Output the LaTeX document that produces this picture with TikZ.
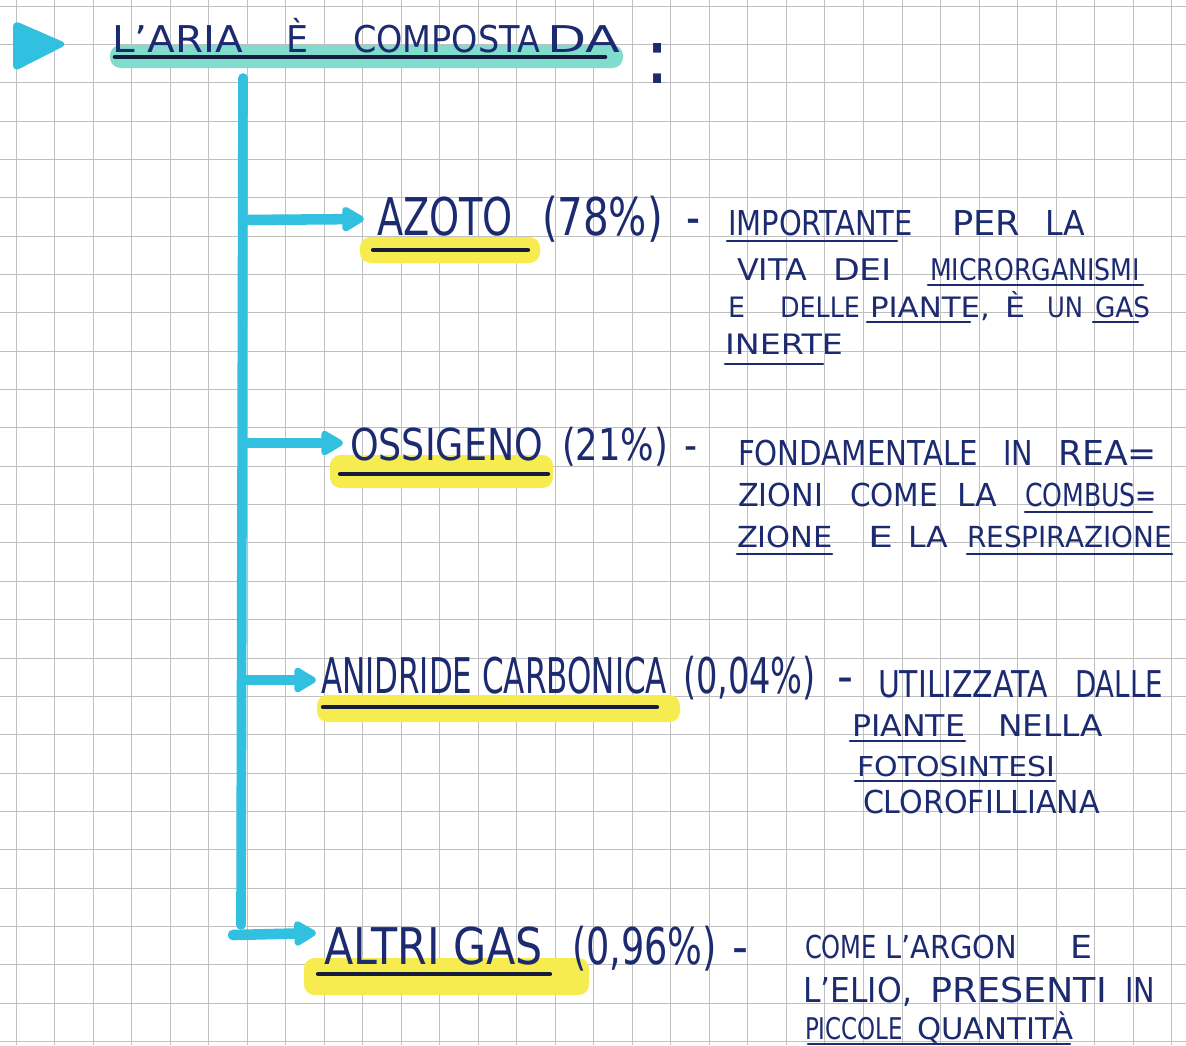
\documentclass[tikz,border=0pt]{standalone}
\usepackage{fontspec}
\setmainfont{DejaVu Sans}
\usepackage{graphicx}
\usetikzlibrary{arrows.meta}
\definecolor{ink}{RGB}{28,42,112}
\definecolor{ulink}{RGB}{22,28,60}
\definecolor{marker}{RGB}{50,192,224}
\definecolor{hlyellow}{RGB}{246,236,80}
\definecolor{hlteal}{RGB}{128,220,205}
\definecolor{gridc}{RGB}{192,192,192}
\newlength\pxu \setlength\pxu{0.02cm}
\newcommand\hw[3]{\resizebox{#2\pxu}{\height}{\fontsize{#1pt}{#1pt}\selectfont #3}}
\begin{document}
\begin{tikzpicture}[x=0.02cm,y=-0.02cm,
  txt/.style={anchor=base west,inner sep=0pt,outer sep=0pt,text=ink},
  ul/.style={draw=ink,line width=1.5pt,line cap=round},
  lul/.style={draw=ulink,line width=2.4pt,line cap=round},
  hly/.style={fill=hlyellow,rounded corners=6pt},
  flow/.style={draw=marker,line width=6pt,line cap=round,-{Triangle[length=0.5cm,width=0.55cm,round]}},
  spine/.style={draw=marker,line width=5.5pt,line cap=round}]
\fill[white] (0,0) rectangle (1186,1045);
\useasboundingbox (0,0) rectangle (1186,1045);
% grid paper
\foreach \i in {0,...,30} \draw[gridc,line width=0.5pt] ({16+38.52*\i},0) -- ({16+38.52*\i},1045);
\foreach \j in {0,...,27} \draw[gridc,line width=0.5pt] (0,{6+38.35*\j}) -- (1186,{6+38.35*\j});
% title
\fill[marker,rounded corners=4pt] (13,20) -- (68,44) -- (13,72) -- cycle;
\fill[hlteal,rounded corners=6pt] (110,45) rectangle (623,68);
\draw[draw=ulink,line width=2.6pt,line cap=round] (115,57) -- (605,57);
\node[txt] (tw1) at (112,52) {\hw{21}{131}{L'ARIA}};
\node[txt] (tw2) at (286,52) {\hw{21}{22}{È}};
\node[txt] (tw3) at (353,52) {\hw{21}{187}{COMPOSTA}};
\node[txt] (tw4) at (547,52) {\hw{21}{73}{DA}};
\node[txt] (colon) at (644,83) {\fontsize{44pt}{44pt}\selectfont :};
% highlighters
\fill[hly] (360,237) rectangle (540,263);
\fill[hly] (330,455) rectangle (553,488);
\fill[hly] (317,695) rectangle (680,722);
\fill[hly] (304,958) rectangle (589,995);
% label underlines
\draw[lul] (373,250) -- (528,250);
\draw[lul] (340,474) -- (548,474);
\draw[lul] (323,707) -- (657,707);
\draw[lul] (318,974) -- (550,974);
% spine and arrows
\coordinate (spTop) at (243,78);
\coordinate (spBot) at (241,925);
\draw[spine] (spTop) -- (spBot);
\coordinate (s1) at (243,220); \coordinate (e1) at (364,219);
\coordinate (s2) at (243,443); \coordinate (e2) at (343,443);
\coordinate (s3) at (243,680); \coordinate (e3) at (316,680);
\coordinate (s4) at (233,935); \coordinate (e4) at (316,933);
\draw[flow] (s1) -- (e1);
\draw[flow] (s2) -- (e2);
\draw[flow] (s3) -- (e3);
\draw[flow] (s4) -- (e4);
% AZOTO
\node[txt] (azoto) at (377,235) {\hw{29.6}{136}{AZOTO}};
\node[txt] (azotoPct) at (542,235) {\hw{29.6}{121}{(78\%)}};
\node[txt] (azotoDash) at (686,235) {\hw{29.6}{14}{-}};
\node[txt] (a1a) at (728,235) {\hw{19.5}{185}{IMPORTANTE}};
\node[txt] (a1b) at (952,235) {\hw{19.5}{68}{PER}};
\node[txt] (a1c) at (1045,235) {\hw{19.5}{40}{LA}};
\node[txt] (a2a) at (737,280) {\hw{17}{70}{VITA}};
\node[txt] (a2b) at (833,280) {\hw{17}{59}{DEI}};
\node[txt] (a2c) at (930,280) {\hw{17}{210}{MICRORGANISMI}};
\node[txt] (a3a) at (728,317) {\hw{16}{17}{E}};
\node[txt] (a3b) at (780,317) {\hw{16}{80}{DELLE}};
\node[txt] (a3c) at (870,317) {\hw{16}{120}{PIANTE,}};
\node[txt] (a3d) at (1005,317) {\hw{16}{20}{È}};
\node[txt] (a3e) at (1047,317) {\hw{16}{36}{UN}};
\node[txt] (a3f) at (1095,317) {\hw{16}{55}{GAS}};
\node[txt] (a4a) at (725,354) {\hw{16}{118}{INERTE}};
\draw[ul] (727,241) -- (897,241);
\draw[ul] (928,285) -- (1143,285);
\draw[ul] (867,322) -- (970,322);
\draw[ul] (1093,322) -- (1138,322);
\draw[ul] (725,364) -- (823,364);
% OSSIGENO
\node[txt] (ossigeno) at (350,460) {\hw{25}{193}{OSSIGENO}};
\node[txt] (ossigenoPct) at (562,460) {\hw{25}{106}{(21\%)}};
\node[txt] (ossigenoDash) at (684,460) {\hw{25}{13}{-}};
\node[txt] (o1a) at (738,465) {\hw{19.5}{240}{FONDAMENTALE}};
\node[txt] (o1b) at (1003,465) {\hw{19.5}{30}{IN}};
\node[txt] (o1c) at (1058,465) {\hw{19.5}{99}{REA=}};
\node[txt] (o2a) at (738,506) {\hw{18}{85}{ZIONI}};
\node[txt] (o2b) at (850,506) {\hw{18}{88}{COME}};
\node[txt] (o2c) at (957,506) {\hw{18}{40}{LA}};
\node[txt] (o2d) at (1025,506) {\hw{18}{132}{COMBUS=}};
\node[txt] (o3a) at (737,547) {\hw{16.5}{96}{ZIONE}};
\node[txt] (o3b) at (868,547) {\hw{16.5}{25}{E}};
\node[txt] (o3c) at (908,547) {\hw{16.5}{40}{LA}};
\node[txt] (o3d) at (967,547) {\hw{16.5}{205}{RESPIRAZIONE}};
\draw[ul] (1025,512) -- (1152,512);
\draw[ul] (737,554) -- (832,554);
\draw[ul] (967,554) -- (1172,554);
% ANIDRIDE CARBONICA
\node[txt] (anidride) at (321,693) {\hw{28}{346}{ANIDRIDE CARBONICA}};
\node[txt] (anidridePct) at (683,693) {\hw{28}{133}{(0,04\%)}};
\node[txt] (anidrideDash) at (837,693) {\hw{28}{16}{-}};
\node[txt] (c1a) at (878,697) {\hw{21}{170}{UTILIZZATA}};
\node[txt] (c1b) at (1075,697) {\hw{21}{88}{DALLE}};
\node[txt] (c2a) at (852,736) {\hw{17}{113}{PIANTE}};
\node[txt] (c2b) at (998,736) {\hw{17}{105}{NELLA}};
\node[txt] (c3a) at (857,776) {\hw{15.6}{198}{FOTOSINTESI}};
\node[txt] (c4a) at (863,813) {\hw{18}{237}{CLOROFILLIANA}};
\draw[ul] (850,741) -- (965,741);
\draw[ul] (855,781) -- (1055,781);
% ALTRI GAS
\node[txt] (altri) at (324,964) {\hw{28.8}{219}{ALTRI GAS}};
\node[txt] (altriPct) at (572,964) {\hw{28.8}{145}{(0,96\%)}};
\node[txt] (altriDash) at (732,964) {\hw{28.8}{16}{-}};
\node[txt] (g1a) at (805,958) {\hw{18}{72}{COME}};
\node[txt] (g1b) at (885,958) {\hw{18}{132}{L'ARGON}};
\node[txt] (g1c) at (1070,958) {\hw{18}{22}{E}};
\node[txt] (g2a) at (803,1002) {\hw{19.5}{109}{L'ELIO,}};
\node[txt] (g2b) at (930,1002) {\hw{19.5}{177}{PRESENTI}};
\node[txt] (g2c) at (1125,1002) {\hw{19.5}{30}{IN}};
\node[txt] (g3a) at (805,1039) {\hw{17}{98}{PICCOLE}};
\node[txt] (g3b) at (917,1039) {\hw{17}{156}{QUANTITÀ}};
\draw[ul] (808,1044) -- (1070,1044);
\end{tikzpicture}
\end{document}
